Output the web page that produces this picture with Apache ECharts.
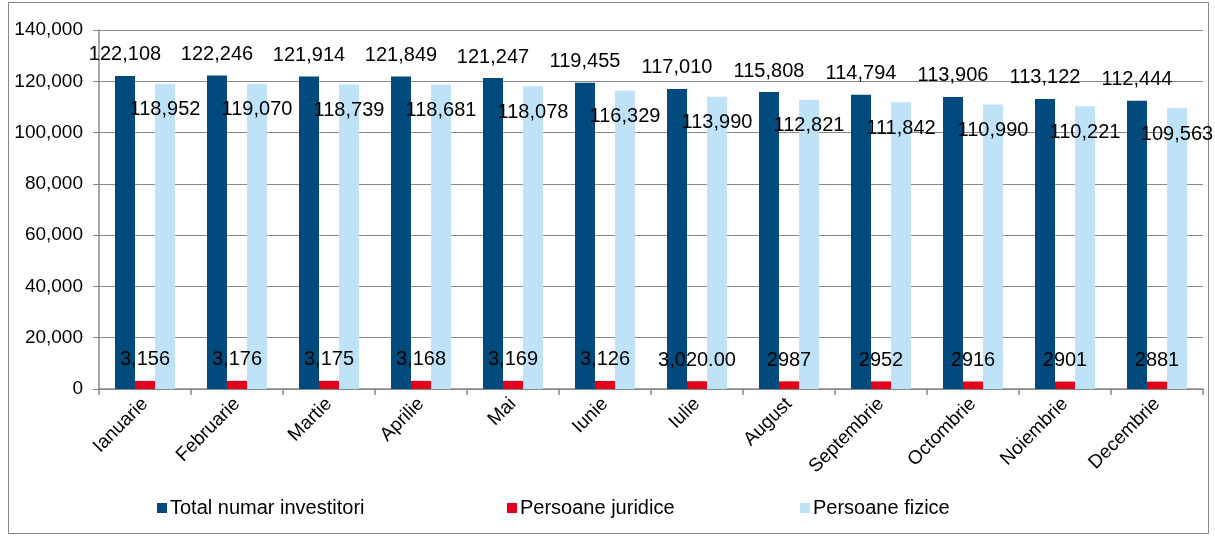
<!DOCTYPE html>
<html>
<head>
<meta charset="utf-8">
<script src="https://cdn.jsdelivr.net/npm/echarts@6/dist/echarts.min.js"></script>
<style>
  html, body { margin: 0; padding: 0; background: #fff; }
  #main { width: 1215px; height: 536px; }
</style>
</head>
<body>
<div id="main"></div>
<script>
var luni = ['Ianuarie', 'Februarie', 'Martie', 'Aprilie', 'Mai', 'Iunie', 'Iulie', 'August', 'Septembrie', 'Octombrie', 'Noiembrie', 'Decembrie'];
var total = [122108, 122246, 121914, 121849, 121247, 119455, 117010, 115808, 114794, 113906, 113122, 112444];
var juridice = [3156, 3176, 3175, 3168, 3169, 3126, 3020, 2987, 2952, 2916, 2901, 2881];
var juridiceLabels = ['3,156', '3,176', '3,175', '3,168', '3,169', '3,126', '3,020.00', '2987', '2952', '2916', '2901', '2881'];
var fizice = [118952, 119070, 118739, 118681, 118078, 116329, 113990, 112821, 111842, 110990, 110221, 109563];

var myChart = echarts.init(document.getElementById('main'));

function fmt(v) {
    return v.toLocaleString('en-US');
}

var labelFont = {
    fontFamily: 'Liberation Sans, Arial, sans-serif',
    fontSize: 20,
    color: '#000'
};

option = {
    animation: false,
    textStyle: { fontFamily: 'Liberation Sans, Arial, sans-serif' },
    graphic: [{
        type: 'rect',
        shape: { x: 8.5, y: 2.5, width: 1200, height: 531 },
        style: { fill: 'none', stroke: '#888', lineWidth: 1 },
        silent: true
    }],
    grid: { left: 99, right: 12, top: 30, bottom: 147 },
    legend: [
        { data: ['Total numar investitori'], left: 152, top: 493 },
        { data: ['Persoane juridice'], left: 502, top: 493 },
        { data: ['Persoane fizice'], left: 795, top: 493 }
    ].map(function (l) {
        l.itemWidth = 10;
        l.itemHeight = 10;
        l.icon = 'rect';
        l.itemGap = 4;
        l.textStyle = { fontSize: 20, color: '#000', fontFamily: 'Liberation Sans, Arial, sans-serif', padding: [0, 0, 0, -2] };
        return l;
    }),
    xAxis: {
        type: 'category',
        data: luni,
        axisLine: { lineStyle: { color: '#888', width: 1.5 } },
        axisTick: { show: true, length: 6, lineStyle: { color: '#888', width: 1.5 } },
        axisLabel: { rotate: 45, fontSize: 19, color: '#000', margin: 12, interval: 0 }
    },
    yAxis: {
        type: 'value',
        min: 0,
        max: 140000,
        interval: 20000,
        axisLine: { show: true, lineStyle: { color: '#888', width: 1.5 } },
        axisTick: { show: true, length: 6, lineStyle: { color: '#888' } },
        splitLine: { lineStyle: { color: '#888', width: 1.2 } },
        axisLabel: { fontSize: 19, color: '#000', margin: 16, formatter: function (v) { return fmt(v); } }
    },
    series: [{
        name: 'Total numar investitori',
        type: 'bar',
        data: total,
        barWidth: 20,
        barGap: '0%',
        itemStyle: { color: '#004A7C' },
        label: Object.assign({
            show: true,
            position: 'top',
            distance: 11,
            formatter: function (p) { return fmt(p.value); }
        }, labelFont)
    }, {
        name: 'Persoane juridice',
        type: 'bar',
        data: juridice,
        barWidth: 20,
        barGap: '0%',
        itemStyle: { color: '#E2001A' },
        label: Object.assign({
            show: true,
            position: 'top',
            distance: 11,
            formatter: function (p) { return juridiceLabels[p.dataIndex]; }
        }, labelFont)
    }, {
        name: 'Persoane fizice',
        type: 'bar',
        data: fizice,
        barWidth: 20,
        barGap: '0%',
        itemStyle: { color: '#BEE3F8' },
        label: Object.assign({
            show: true,
            position: 'insideTop',
            distance: 16,
            formatter: function (p) { return fmt(p.value); }
        }, labelFont)
    }]
};

myChart.setOption(option);
</script>
</body>
</html>
